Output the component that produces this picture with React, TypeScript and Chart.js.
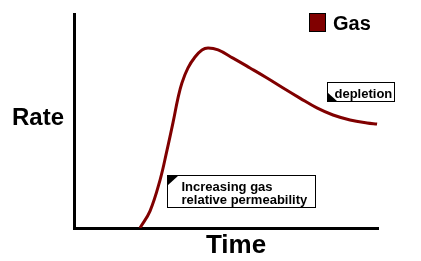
import React, { useEffect, useRef } from "react";
import { Chart, registerables } from "chart.js";

Chart.register(...registerables);

const seriesLabel = "Gas";
const timeValues = [21.7, 25.0, 28.3, 30.6, 32.6, 34.2, 35.5, 37.5, 39.8, 42.1, 44.1, 47.4, 52.3, 57.9, 63.5, 68.8, 74.3, 79.9, 85.2, 90.8, 96.4, 99.7];
const rateValues = [0, 7.9, 22.4, 36.4, 49.5, 60.7, 67.8, 74.8, 79.9, 83.2, 84.1, 83.2, 79.4, 74.8, 70.1, 65.4, 60.7, 56.1, 52.8, 50.5, 49.1, 48.6];
const xTitle = "Time";
const yTitle = "Rate";
const noteRising = ["Increasing gas", "relative permeability"];
const noteRisingAt = { x: 30.6, y: 24.8 };
const noteDepletion = ["depletion"];
const noteDepletionAt = { x: 83.2, y: 68.2 };

const LINE_COLOR = "#800000";
const FONT = "Arial, 'Liberation Sans', sans-serif";

const overlayPlugin = {
  id: "overlay",
  afterDraw(chart: any) {
    const ctx = chart.ctx;
    const xs = chart.scales.x;
    const ys = chart.scales.y;
    ctx.save();
    ctx.fillStyle = "#000";
    ctx.textBaseline = "alphabetic";

    // y title (horizontal)
    ctx.font = `bold 24px ${FONT}`;
    ctx.textAlign = "center";
    ctx.fillText(yTitle, 38, 125);

    // x title
    ctx.font = `bold 26px ${FONT}`;
    ctx.fillText(xTitle, 236, 253);

    // legend
    const ds = chart.data.datasets[0];
    ctx.fillStyle = ds.borderColor;
    ctx.fillRect(309, 13, 17, 19);
    ctx.strokeStyle = "#000";
    ctx.lineWidth = 1;
    ctx.strokeRect(309.5, 13.5, 16, 18);
    ctx.fillStyle = "#000";
    ctx.font = `bold 20px ${FONT}`;
    ctx.textAlign = "left";
    ctx.fillText(ds.label, 333, 30);

    // annotations
    const drawNote = (lines: string[], at: { x: number; y: number }, w: number, h: number, corner: "tl" | "bl") => {
      const left = Math.round(xs.getPixelForValue(at.x)) + 0.5;
      const top = Math.round(ys.getPixelForValue(at.y)) + 0.5;
      ctx.fillStyle = "#fff";
      ctx.fillRect(left, top, w, h);
      ctx.strokeStyle = "#000";
      ctx.lineWidth = 1;
      ctx.strokeRect(left, top, w, h);
      ctx.fillStyle = "#000";
      ctx.beginPath();
      if (corner === "tl") {
        ctx.moveTo(left, top);
        ctx.lineTo(left + 11, top);
        ctx.lineTo(left, top + 10);
      } else {
        ctx.moveTo(left, top + h);
        ctx.lineTo(left, top + h - 9);
        ctx.lineTo(left + 10, top + h);
      }
      ctx.closePath();
      ctx.fill();
      ctx.font = `bold 13px ${FONT}`;
      ctx.textAlign = "left";
      lines.forEach((t, i) => {
        ctx.fillText(t, left + (corner === "tl" ? 14 : 7), top + 15 + i * 13);
      });
    };
    drawNote(noteRising, noteRisingAt, 148, 32, "tl");
    drawNote(noteDepletion, noteDepletionAt, 67, 19, "bl");

    ctx.restore();
  },
};

export default function App() {
  const ref = useRef<HTMLCanvasElement | null>(null);
  useEffect(() => {
    if (!ref.current) return;
    const chart = new Chart(ref.current, {
      type: "line",
      data: {
        datasets: [
          {
            label: seriesLabel,
            data: timeValues.map((t, i) => ({ x: t, y: rateValues[i] })),
            borderColor: LINE_COLOR,
            backgroundColor: LINE_COLOR,
            borderWidth: 3,
            pointRadius: 0,
            tension: 0.4,
            fill: false,
          },
        ],
      },
      options: {
        animation: false,
        responsive: false,
        devicePixelRatio: 1,
        layout: { padding: { left: 74, right: 43, top: 14, bottom: 33 } },
        plugins: { legend: { display: false }, tooltip: { enabled: false } },
        scales: {
          x: {
            type: "linear",
            min: 0,
            max: 100,
            grid: { display: false, drawTicks: false },
            ticks: { display: false },
            border: { display: true, color: "#000", width: 3 },
            afterFit: (s: any) => {
              s.height = 0;
            },
          },
          y: {
            min: 0,
            max: 100,
            grid: { display: false, drawTicks: false },
            ticks: { display: false },
            border: { display: true, color: "#000", width: 3 },
            afterFit: (s: any) => {
              s.width = 0;
            },
          },
        },
      },
      plugins: [overlayPlugin],
    });
    return () => chart.destroy();
  }, []);
  return (
    <div style={{ position: "fixed", left: 0, top: 0, width: 421, height: 261, background: "#fff" }}>
      <canvas ref={ref} width={421} height={261} style={{ width: 421, height: 261, display: "block" }} />
    </div>
  );
}
